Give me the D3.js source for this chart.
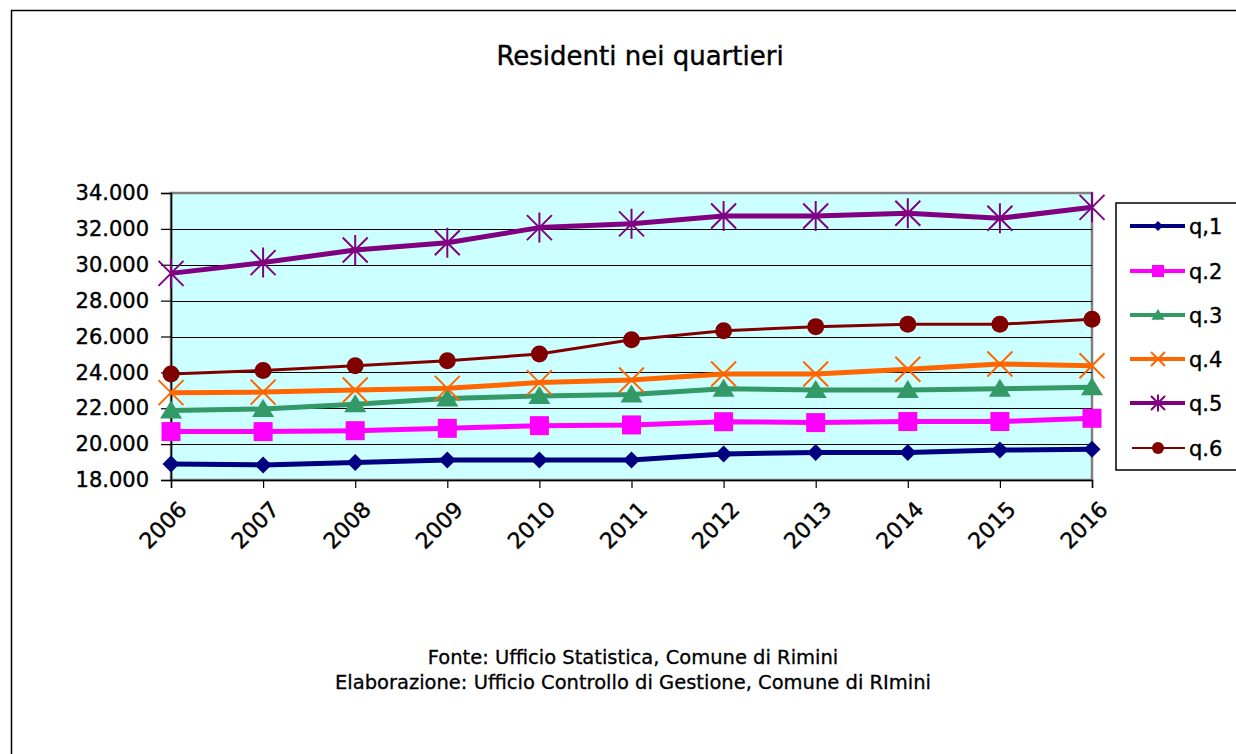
<!DOCTYPE html>
<html><head><meta charset="utf-8">
<script src="https://cdn.jsdelivr.net/npm/d3@7"></script>
<style>html,body{margin:0;padding:0;background:#fff;overflow:hidden}</style>
</head><body>
<svg id="c" width="1236" height="754"></svg>
<script>
const years = ["2006","2007","2008","2009","2010","2011","2012","2013","2014","2015","2016"];
const seriesNames = ["q,1","q.2","q.3","q.4","q.5","q.6"];
const q1 = [18890,18840,18970,19110,19110,19110,19450,19540,19540,19670,19710];
const q2 = [20700,20700,20750,20880,21030,21070,21250,21200,21260,21260,21440];
const q3 = [21870,21960,22220,22550,22680,22760,23090,23020,23020,23090,23170];
const q4 = [22870,22900,23020,23110,23430,23575,23910,23910,24170,24470,24370];
const q5 = [29520,30120,30820,31230,32070,32280,32720,32720,32870,32590,33200];
const q6 = [23910,24110,24370,24650,25025,25820,26325,26550,26680,26680,26960];
const yTicks = [18000,20000,22000,24000,26000,28000,30000,32000,34000];
const title = "Residenti nei quartieri";
const footer = ["Fonte: Ufficio Statistica, Comune di Rimini","Elaborazione: Ufficio Controllo di Gestione, Comune di RImini"];

const values = [q1,q2,q3,q4,q5,q6];
const colors = ["#000080","#FF00FF","#339966","#FF6600","#800080","#800000"];
const markers = ["diamond","square","triangle","x","star","circle"];
const widths = [5,5,5,5,5,3];

const svg = d3.select("#c");
const font = "DejaVu Sans, Verdana, sans-serif";
const L=171, R=1092, T=193, B=480;
const x = d3.scalePoint().domain(years).range([L,R]);
const y = d3.scaleLinear().domain([18000,34000]).range([B,T]);

// outer border (left & top visible)
svg.append("path").attr("d","M11.5,754 V10.5 H1236").attr("fill","none").attr("stroke","#000").attr("stroke-width",1.5);

svg.append("text").attr("x",640).attr("y",65).attr("text-anchor","middle")
  .attr("font-family",font).attr("font-size",26).attr("stroke","#000").attr("stroke-width",0.4).text(title);

// plot area
svg.append("rect").attr("x",L).attr("y",T).attr("width",R-L).attr("height",B-T)
  .attr("fill","#CCFFFF").attr("stroke","#808080").attr("stroke-width",2.5);

// gridlines
svg.append("g").selectAll("line").data(yTicks.slice(1,-1)).join("line")
  .attr("x1",L).attr("x2",R).attr("y1",d=>Math.round(y(d))+0.5).attr("y2",d=>Math.round(y(d))+0.5)
  .attr("stroke","#000").attr("stroke-width",1.2);

// y axis
const yAxis = d3.axisLeft(y).tickValues(yTicks).tickSize(10).tickPadding(12)
  .tickFormat(d=>d3.format(",")(d).replace(/,/g,"."));
const gy = svg.append("g").attr("transform",`translate(${L},0)`).call(yAxis);
gy.select(".domain").attr("stroke","#000").attr("stroke-width",1.5);
gy.selectAll(".tick line").attr("stroke","#000").attr("stroke-width",1.2);
gy.selectAll("text").attr("font-family",font).attr("font-size",21).attr("fill","#000")
  .attr("stroke","#000").attr("stroke-width",0.4);

// x axis
const xAxis = d3.axisBottom(x).tickSize(8).tickPadding(4);
const gx = svg.append("g").attr("transform",`translate(0,${B})`).call(xAxis);
gx.select(".domain").attr("stroke","#000").attr("stroke-width",1.5);
gx.selectAll(".tick line").attr("stroke","#000").attr("stroke-width",1.2);
gx.selectAll("text").attr("font-family",font).attr("font-size",22).attr("fill","#000")
  .attr("stroke","#000").attr("stroke-width",0.4)
  .attr("text-anchor","end").attr("dy",null).attr("dominant-baseline","middle")
  .attr("transform","translate(4,18) rotate(-45)");

function drawMarker(g, type, color, s){
  if(type==="diamond"){
    g.append("path").attr("d",`M0,${-s} L${s},0 L0,${s} L${-s},0Z`).attr("fill",color);
  } else if(type==="square"){
    g.append("rect").attr("x",-s).attr("y",-s).attr("width",2*s).attr("height",2*s).attr("fill",color);
  } else if(type==="triangle"){
    g.append("path").attr("d",`M0,${-s} L${s*1.1},${s*0.8} L${-s*1.1},${s*0.8}Z`).attr("fill",color);
  } else if(type==="x"){
    g.append("path").attr("d",`M${-s},${-s} L${s},${s} M${s},${-s} L${-s},${s}`).attr("stroke",color).attr("stroke-width",2).attr("fill","none");
  } else if(type==="star"){
    g.append("path").attr("d",`M${-s},${-s} L${s},${s} M${s},${-s} L${-s},${s} M0,${-s*1.2} L0,${s*1.2}`).attr("stroke",color).attr("stroke-width",2).attr("fill","none");
  } else if(type==="circle"){
    g.append("circle").attr("r",s).attr("fill",color);
  }
}
const msize = [8.5,9.5,10,12.5,12.5,8.5];

const line = d3.line().x((d,i)=>x(years[i])).y(d=>y(d));
values.forEach((vals,k)=>{
  const g = svg.append("g");
  g.append("path").datum(vals).attr("d",line).attr("fill","none")
    .attr("stroke",colors[k]).attr("stroke-width",widths[k]).attr("stroke-linejoin","round");
  g.selectAll("g.m").data(vals).join("g").attr("class","m")
    .attr("transform",(d,i)=>`translate(${x(years[i])},${y(d)})`)
    .each(function(){ drawMarker(d3.select(this), markers[k], colors[k], msize[k]); });
});

// legend
svg.append("rect").attr("x",1116).attr("y",203).attr("width",140).attr("height",267)
  .attr("fill","#fff").attr("stroke","#000").attr("stroke-width",1.5);
const ly = [226,271,315,359,403,448];
seriesNames.forEach((n,k)=>{
  const g = svg.append("g").attr("transform",`translate(0,${ly[k]})`);
  g.append("line").attr("x1",k===5?1132:1130).attr("x2",1185).attr("stroke",colors[k]).attr("stroke-width",widths[k]-1);
  const mg = g.append("g").attr("transform","translate(1158,0)");
  drawMarker(mg, markers[k], colors[k], [5,6,6,7,7,6][k]);
  g.append("text").attr("x",1189).attr("y",0).attr("dy","0.36em").attr("font-family",font)
    .attr("font-size",21).attr("fill","#000").attr("stroke","#000").attr("stroke-width",0.4).text(n);
});

// footer
svg.append("g").selectAll("text").data(footer).join("text")
  .attr("x",633).attr("y",(d,i)=>664+i*25).attr("text-anchor","middle")
  .attr("font-family",font).attr("font-size",19.5).attr("fill","#000").attr("stroke","#000").attr("stroke-width",0.3).text(d=>d);
</script>
</body></html>
